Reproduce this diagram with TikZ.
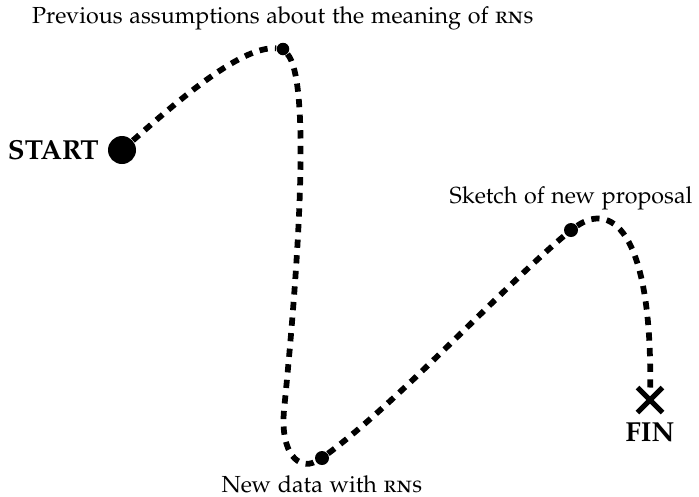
\documentclass[tikz,border=0pt]{standalone}
\usepackage[T1]{fontenc}
\usepackage[sc]{mathpazo}
\usepackage{tikz}
\usetikzlibrary{positioning, shapes.misc}

\begin{document}
\begin{tikzpicture}[x=0.4pt, y=-0.4pt,
    startpt/.style={circle, fill=black, minimum size=11.2pt, inner sep=0pt},
    waypt/.style={circle, fill=black, minimum size=5pt, inner sep=0pt},
    endpt/.style={cross out, draw=black, line width=2pt, minimum size=8pt, inner sep=0pt},
    trail/.style={line width=2.3pt, dash pattern=on 3.3pt off 2.95pt},
    lbl/.style={font=\fontsize{9.3}{11}\selectfont},
    boldlbl/.style={font=\fontsize{11}{13}\selectfont\bfseries}]
    \useasboundingbox (0,0) rectangle (699,496);
    % stations along the way
    \node[startpt] (start) at (122,150) {};
    \node[waypt] (prev) at (283,49) {};
    \node[waypt, minimum size=5.6pt] (data) at (322,458) {};
    \node[waypt, minimum size=5.6pt] (sketch) at (571,230) {};
    \node[endpt] (fin) at (650,400) {};
    \coordinate (bend) at (284,410);
    % labels
    \node[boldlbl, left=0pt of start] {START};
    \node[lbl, above=1.5pt of prev] {Previous assumptions about the meaning of \textsc{rns}};
    \node[lbl, below=0.5pt of data] {New data with \textsc{rns}};
    \node[lbl, above=1.5pt of sketch] {Sketch of new proposal};
    \node[boldlbl, below=0.5pt of fin] {FIN};
    % the route
    \draw[trail] (start) .. controls (170,108) and (240,45) .. (prev)
        .. controls (310,80) and (300,250) .. (bend)
        .. controls (280,455) and (300,470) .. (data)
        .. controls (400,400) and (500,290) .. (sketch)
        .. controls (615,200) and (652,240) .. (fin);
\end{tikzpicture}
\end{document}
